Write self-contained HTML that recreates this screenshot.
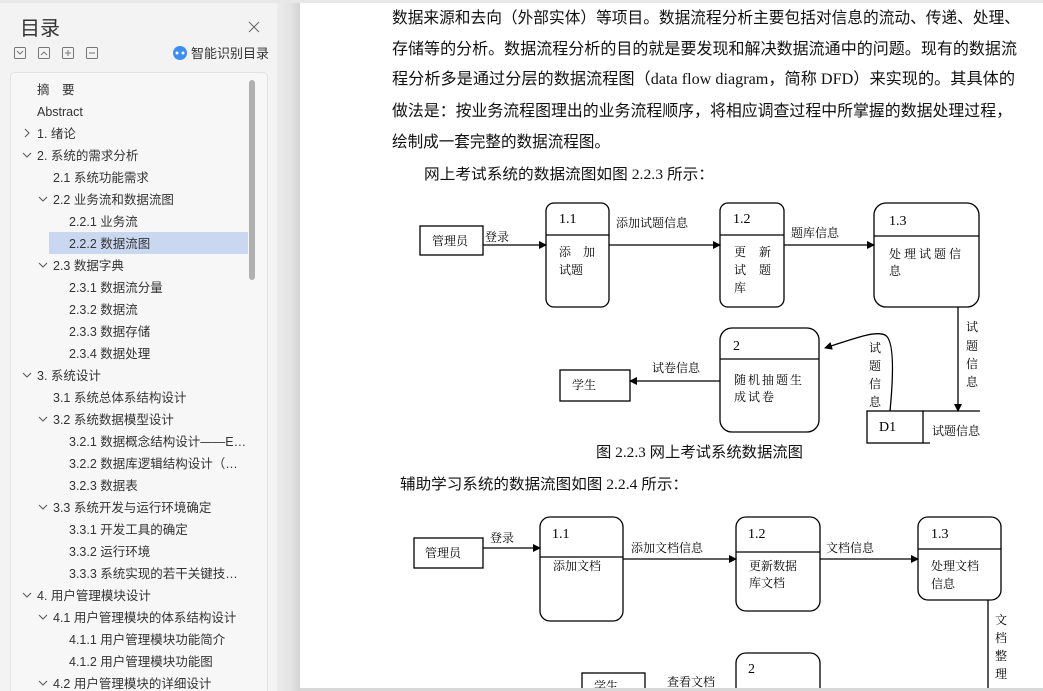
<!DOCTYPE html>
<html><head><meta charset="utf-8"><style>
html,body{margin:0;padding:0;background:#fff;width:1043px;height:691px;overflow:hidden}
svg{display:block}
.s{font-family:"Liberation Sans","Noto Sans CJK SC",sans-serif;font-size:12.5px;fill:#333}
.b{font-family:"Liberation Serif","Noto Sans CJK SC",sans-serif;font-size:16px;fill:#111}
.d{font-family:"Liberation Serif","Noto Serif CJK SC",serif;font-size:12px;fill:#000}
.n{font-family:"Liberation Serif",serif;font-size:14px;fill:#000}
</style></head><body>
<svg width="1043" height="691" xmlns="http://www.w3.org/2000/svg">
<defs><marker id="a" markerWidth="8" markerHeight="8" refX="7" refY="4" orient="auto" markerUnits="userSpaceOnUse"><path d="M0,0 L8,4 L0,8 z" fill="#000"/></marker>
<linearGradient id="g" x1="0" x2="1" y1="0" y2="0"><stop offset="0" stop-color="#ececec"/><stop offset="0.6" stop-color="#e3e3e3"/><stop offset="1" stop-color="#d4d4d4"/></linearGradient></defs>
<!-- sidebar -->
<rect x="0" y="0" width="277" height="691" fill="#f3f3f3"/>
<rect x="277" y="0" width="23" height="691" fill="url(#g)"/>
<rect x="0" y="0" width="1043" height="3" fill="#e8e8e8"/>
<text x="20" y="35" style="font-family:'Liberation Sans','Noto Sans CJK SC',sans-serif;font-size:20px;fill:#333">目录</text>
<path d="M249,22 L259,32 M259,22 L249,32" stroke="#666" stroke-width="1"/>
<g fill="none" stroke="#777" stroke-width="1">
<rect x="14.5" y="47.5" width="11" height="11" rx="1"/><path d="M17,51 L20,54 L23,51"/>
<rect x="38.5" y="47.5" width="11" height="11" rx="1"/><path d="M41,55 L44,52 L47,55"/>
<rect x="62.5" y="47.5" width="11" height="11" rx="1"/><path d="M65,53 L71,53 M68,50 L68,56"/>
<rect x="86.5" y="47.5" width="11" height="11" rx="1"/><path d="M89,53 L95,53"/>
</g>
<circle cx="180" cy="53" r="7" fill="#3d8ef0"/><circle cx="177" cy="53" r="1.5" fill="#fff"/><circle cx="183" cy="53" r="1.5" fill="#fff"/>
<text x="191" y="58" class="s" style="font-size:13px">智能识别目录</text>
<rect x="10.5" y="72.5" width="257" height="630" rx="4" fill="#f7f7f7" stroke="#e2e2e2"/>
<rect x="49" y="232" width="199" height="22" fill="#c9d8f0"/>
<rect x="249" y="80" width="6" height="200" rx="3" fill="#b0b0b0"/>
<g class="s">
<text x="37" y="94">摘　要</text>
<text x="37" y="116">Abstract</text>
<text x="37" y="138">1.  绪论</text>
<text x="37" y="160">2.  系统的需求分析</text>
<text x="53" y="182">2.1 系统功能需求</text>
<text x="53" y="204">2.2  业务流和数据流图</text>
<text x="69" y="226">2.2.1 业务流</text>
<text x="69" y="248">2.2.2 数据流图</text>
<text x="53" y="270">2.3  数据字典</text>
<text x="69" y="292">2.3.1  数据流分量</text>
<text x="69" y="314">2.3.2  数据流</text>
<text x="69" y="336">2.3.3  数据存储</text>
<text x="69" y="358">2.3.4  数据处理</text>
<text x="37" y="380">3.  系统设计</text>
<text x="53" y="402">3.1 系统总体系结构设计</text>
<text x="53" y="424">3.2  系统数据模型设计</text>
<text x="69" y="446">3.2.1  数据概念结构设计——E…</text>
<text x="69" y="468">3.2.2  数据库逻辑结构设计（…</text>
<text x="69" y="490">3.2.3  数据表</text>
<text x="53" y="512">3.3  系统开发与运行环境确定</text>
<text x="69" y="534">3.3.1  开发工具的确定</text>
<text x="69" y="556">3.3.2  运行环境</text>
<text x="69" y="578">3.3.3 系统实现的若干关键技…</text>
<text x="37" y="600">4.  用户管理模块设计</text>
<text x="53" y="622">4.1 用户管理模块的体系结构设计</text>
<text x="69" y="644">4.1.1  用户管理模块功能简介</text>
<text x="69" y="666">4.1.2  用户管理模块功能图</text>
<text x="53" y="688">4.2  用户管理模块的详细设计</text>
</g>
<g fill="none" stroke="#555" stroke-width="1">
<path d="M25,129 L29,133 L25,137"/>
<path d="M23,153 L27,157 L31,153"/>
<path d="M39,197 L43,201 L47,197"/>
<path d="M39,263 L43,267 L47,263"/>
<path d="M23,373 L27,377 L31,373"/>
<path d="M39,417 L43,421 L47,417"/>
<path d="M39,505 L43,509 L47,505"/>
<path d="M23,593 L27,597 L31,593"/>
<path d="M39,615 L43,619 L47,615"/>
<path d="M39,681 L43,685 L47,681"/>
</g>
<!-- body text -->
<g class="b">
<text x="392" y="23" textLength="628" lengthAdjust="spacingAndGlyphs">数据来源和去向（外部实体）等项目。数据流程分析主要包括对信息的流动、传递、处理、</text>
<text x="392" y="54" textLength="625" lengthAdjust="spacingAndGlyphs">存储等的分析。数据流程分析的目的就是要发现和解决数据流通中的问题。现有的数据流</text>
<text x="392" y="84" textLength="623" lengthAdjust="spacingAndGlyphs">程分析多是通过分层的数据流程图（data flow diagram，简称 DFD）来实现的。其具体的</text>
<text x="392" y="116" textLength="620" lengthAdjust="spacingAndGlyphs">做法是：按业务流程图理出的业务流程顺序，将相应调查过程中所掌握的数据处理过程，</text>
<text x="392" y="147" textLength="218" lengthAdjust="spacingAndGlyphs">绘制成一套完整的数据流程图。</text>
<text x="424" y="179" style="font-size:15px" textLength="290" lengthAdjust="spacingAndGlyphs">网上考试系统的数据流图如图 2.2.3 所示：</text>
<text x="596" y="457" style="font-size:15px" textLength="207" lengthAdjust="spacingAndGlyphs">图 2.2.3  网上考试系统数据流图</text>
<text x="400" y="489" style="font-size:15px" textLength="288" lengthAdjust="spacingAndGlyphs">辅助学习系统的数据流图如图 2.2.4 所示：</text>
</g>
<!-- diagram 1 -->
<g fill="none" stroke="#000" stroke-width="1.3">
<rect x="420" y="226" width="63" height="29"/>
<rect x="546" y="203" width="63" height="104" rx="8"/><path d="M546,235 H609"/>
<rect x="720" y="203" width="64" height="104" rx="8"/><path d="M720,235 H784"/>
<rect x="874" y="203" width="105" height="104" rx="12"/><path d="M874,236 H979"/>
<rect x="720" y="328" width="99" height="104" rx="12"/><path d="M720,359 H819"/>
<rect x="560" y="370" width="70" height="31"/>
<rect x="867" y="411" width="56" height="32"/>
<path d="M923,411 H980 M923,443 H930"/>
<path d="M483,245 H546" marker-end="url(#a)"/>
<path d="M609,245 H720" marker-end="url(#a)"/>
<path d="M784,245 H874" marker-end="url(#a)"/>
<path d="M958,307 V411" marker-end="url(#a)"/>
<path d="M720,381 H630" marker-end="url(#a)"/>
<path d="M890,411 C893,380 895,340 885,335 C875,330 850,340 825,348" marker-end="url(#a)"/>
</g>
<g class="d">
<text x="432" y="245">管理员</text>
<text x="485" y="241">登录</text>
<text x="616" y="227">添加试题信息</text>
<text x="791" y="237">题库信息</text>
<text x="559" y="256" letter-spacing="12">添加</text>
<text x="559" y="274">试题</text>
<text x="734" y="256" letter-spacing="13">更新</text>
<text x="734" y="274" letter-spacing="13">试题</text>
<text x="734" y="292">库</text>
<text x="889" y="258" letter-spacing="3">处理试题信</text>
<text x="889" y="275">息</text>
<text x="734" y="384" letter-spacing="2">随机抽题生</text>
<text x="734" y="401" letter-spacing="2">成试卷</text>
<text x="572" y="389">学生</text>
<text x="652" y="372">试卷信息</text>
<text x="966" y="331">试</text><text x="966" y="350">题</text><text x="966" y="368">信</text><text x="966" y="386">息</text>
<text x="869" y="352">试</text><text x="869" y="370">题</text><text x="869" y="388">信</text><text x="869" y="406">息</text>
<text x="932" y="435">试题信息</text>
</g>
<g class="n">
<text x="559" y="223">1.1</text><text x="733" y="223">1.2</text><text x="889" y="225">1.3</text>
<text x="733" y="350">2</text><text x="879" y="431">D1</text>
</g>
<!-- diagram 2 -->
<g fill="none" stroke="#000" stroke-width="1.3">
<rect x="414" y="538" width="69" height="30"/>
<rect x="540" y="517" width="83" height="104" rx="10"/><path d="M540,557 H623"/>
<rect x="736" y="517" width="84" height="94" rx="10"/><path d="M736,552 H820"/>
<rect x="918" y="517" width="83" height="83" rx="10"/><path d="M918,549 H1001"/>
<rect x="736" y="653" width="84" height="60" rx="10"/>
<rect x="582" y="673" width="63" height="30"/>
<path d="M483,548 H540" marker-end="url(#a)"/>
<path d="M623,559 H736" marker-end="url(#a)"/>
<path d="M820,559 H918" marker-end="url(#a)"/>
<path d="M988,600 V691"/>
</g>
<g class="d">
<text x="425" y="557">管理员</text>
<text x="490" y="542">登录</text>
<text x="631" y="552">添加文档信息</text>
<text x="826" y="552">文档信息</text>
<text x="553" y="570">添加文档</text>
<text x="749" y="570">更新数据</text>
<text x="749" y="587">库文档</text>
<text x="931" y="570">处理文档</text>
<text x="931" y="588">信息</text>
<text x="667" y="686">查看文档</text>
<text x="594" y="690">学生</text>
<text x="995" y="624">文</text><text x="995" y="642">档</text><text x="995" y="660">整</text><text x="995" y="678">理</text>
</g>
<g class="n">
<text x="552" y="538">1.1</text><text x="748" y="538">1.2</text><text x="931" y="538">1.3</text><text x="748" y="673">2</text>
</g>
<rect x="300" y="688" width="743" height="3" fill="#d8d8d8"/>
</svg>
</body></html>
